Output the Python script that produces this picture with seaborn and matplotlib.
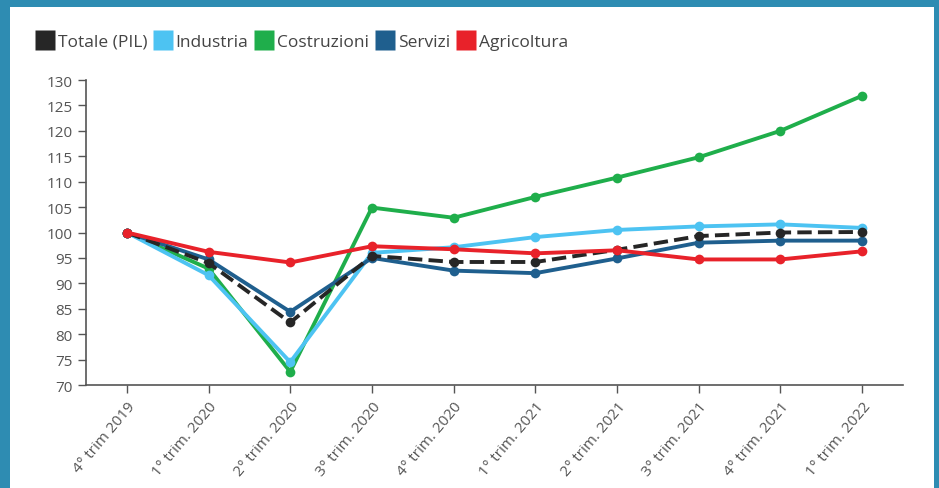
import numpy as np
import pandas as pd
import matplotlib
matplotlib.use("Agg")
import matplotlib.pyplot as plt
import seaborn as sns
from matplotlib.patches import Rectangle
from matplotlib.lines import Line2D

sns.set_style("white")
plt.rcParams['font.family'] = ['Open Sans', 'DejaVu Sans']

# data
quarters = ["4° trim 2019", "1° trim. 2020", "2° trim. 2020", "3° trim. 2020", "4° trim. 2020",
            "1° trim. 2021", "2° trim. 2021", "3° trim. 2021", "4° trim. 2021", "1° trim. 2022"]
totale = [100, 94.0, 82.3, 95.4, 94.2, 94.2, 96.6, 99.3, 100.0, 100.1]
industria = [100, 91.6, 74.5, 96.0, 97.1, 99.1, 100.5, 101.2, 101.6, 100.9]
costruzioni = [100, 92.9, 72.6, 104.9, 102.9, 107.0, 110.8, 114.8, 120.0, 126.9]
servizi = [100, 94.7, 84.4, 95.0, 92.5, 92.0, 94.9, 98.0, 98.4, 98.4]
agricoltura = [100, 96.2, 94.1, 97.3, 96.7, 95.9, 96.5, 94.7, 94.7, 96.3]

series_names = ["Totale (PIL)", "Industria", "Costruzioni", "Servizi", "Agricoltura"]
series_vals = [totale, industria, costruzioni, servizi, agricoltura]
colors = {"Totale (PIL)": "#262626", "Industria": "#4dc3f2", "Costruzioni": "#1fae4b",
          "Servizi": "#1f5f8e", "Agricoltura": "#e8222a"}

df = pd.DataFrame({
    "trimestre": quarters * len(series_names),
    "x": list(range(len(quarters))) * len(series_names),
    "serie": np.repeat(series_names, len(quarters)),
    "valore": np.concatenate(series_vals),
})

fig = plt.figure(figsize=(9.39, 4.89), dpi=100)
fig.patch.set_facecolor("#2e8cb2")
fig.patches.append(Rectangle((10 / 939, 0), (934 - 10) / 939, (489 - 8) / 489,
                             transform=fig.transFigure, facecolor="white",
                             edgecolor="none", zorder=-10))
ax = fig.add_axes([86 / 939, (489 - 386) / 489, (903 - 86) / 939, (386 - 81) / 489])
ax.set_facecolor("white")
ax.patch.set_alpha(0)

# draw order: Costruzioni, Industria, Servizi, Totale, Agricoltura on top
order = ["Costruzioni", "Industria", "Servizi", "Totale (PIL)", "Agricoltura"]
for name in order:
    sub = df[df["serie"] == name]
    sns.lineplot(data=sub, x="x", y="valore", ax=ax, color=colors[name],
                 linewidth=2.8, marker="o", markersize=7, markeredgewidth=0,
                 linestyle="--" if name == "Totale (PIL)" else "-",
                 legend=False)

ax.set_xlim(-0.5, len(quarters) - 1 + 0.5)
ax.set_ylim(70, 130)
ax.set_yticks(range(70, 131, 5))
ax.set_xticks(range(len(quarters)))
ax.set_xticklabels(quarters, rotation=50, ha="right", rotation_mode="anchor")
ax.set_xlabel("")
ax.set_ylabel("")
for s in ["top", "right"]:
    ax.spines[s].set_visible(False)
for s in ["left", "bottom"]:
    ax.spines[s].set_color("#555555")
    ax.spines[s].set_linewidth(1.2)
ax.tick_params(axis="both", which="both", length=6, width=1, color="#555555",
               labelsize=11, labelcolor="#555555", direction="out",
               bottom=True, left=True)
ax.tick_params(axis="x", pad=4)

handles = [Line2D([0], [0], marker="s", color="none", markerfacecolor=colors[n],
                  markeredgecolor="none", markersize=15) for n in series_names]
fig.legend(handles, series_names, loc="upper left", bbox_to_anchor=(22 / 939, 1 - 19 / 489),
           ncol=5, frameon=False, fontsize=12.5, handlelength=0.8, handletextpad=0.35,
           columnspacing=0.5, labelcolor="#444444")

fig.savefig("out.png", dpi=100, facecolor=fig.get_facecolor())
